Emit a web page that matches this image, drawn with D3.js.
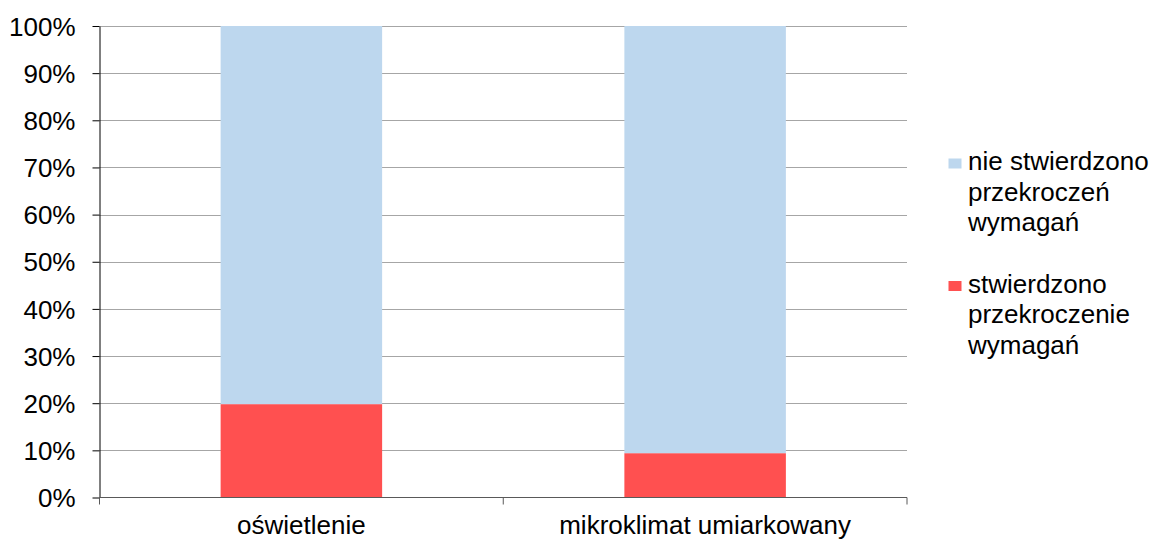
<!DOCTYPE html>
<html><head><meta charset="utf-8">
<script src="https://cdn.jsdelivr.net/npm/d3@7"></script>
<style>body{margin:0;background:#fff;}svg{display:block;font-family:"Liberation Sans",Arial,sans-serif;}</style>
</head><body><svg id="c" width="1156" height="540"></svg>
<script>
const categories = ["oświetlenie", "mikroklimat umiarkowany"];
const seriesNames = ["stwierdzono przekroczenie wymagań", "nie stwierdzono przekroczeń wymagań"];
const exceeded = [19.8, 9.4];
const notExceeded = [80.2, 90.6];
const yTicks = [0,10,20,30,40,50,60,70,80,90,100];
const legendLines = [["nie stwierdzono","przekroczeń","wymagań"],["stwierdzono","przekroczenie","wymagań"]];
const colors = ["#FF5050", "#BDD7EE"];

const FS = "26px";
const svg = d3.select("#c");
const L = 99.5, R = 907, T = 26, B = 497.5;
const x = d3.scaleBand().domain(categories).range([L, R]).paddingInner(0.6).paddingOuter(0.3);
const y = d3.scaleLinear().domain([0,100]).range([B, T]);

// gridlines
svg.append("g").selectAll("line").data(yTicks.filter(d=>d>0)).join("line")
  .attr("x1", L).attr("x2", R).attr("y1", d=>Math.round(y(d))+0.5).attr("y2", d=>Math.round(y(d))+0.5)
  .attr("stroke", "#a6a6a6").attr("stroke-width", 1);

// stacked bars
const data = categories.map((c,i)=>({cat:c, s0:exceeded[i], s1:notExceeded[i]}));
const stack = d3.stack().keys(["s0","s1"])(data);
svg.append("g").selectAll("g").data(stack).join("g").attr("fill",(d,i)=>colors[i])
  .selectAll("rect").data(d=>d).join("rect")
  .attr("x", d=>x(d.data.cat)).attr("width", x.bandwidth())
  .attr("y", d=>y(d[1])).attr("height", d=>y(d[0])-y(d[1]));

// y axis
const ya = svg.append("g").attr("transform", `translate(${L},0)`)
  .call(d3.axisLeft(y).tickValues(yTicks).tickFormat(d=>d+"%").tickSize(7).tickSizeOuter(0));
ya.select(".domain").attr("stroke","#000");
ya.selectAll(".tick line").attr("stroke","#000");
ya.selectAll("text").attr("font-size",FS).attr("fill","#000").attr("x",-24).attr("dy","0.35em").attr("font-family","'Liberation Sans',Arial,sans-serif");

// x axis
const xa = svg.append("g").attr("transform", `translate(0,${B})`);
xa.append("line").attr("x1",L).attr("x2",R).attr("stroke","#595959");
const bounds = [L, (L+R)/2, R];
xa.selectAll(".tk").data(bounds).join("line").attr("class","tk")
  .attr("x1",d=>d).attr("x2",d=>d).attr("y1",0).attr("y2",7).attr("stroke","#595959");
xa.selectAll("text").data(categories).join("text")
  .attr("x", d=>x(d)+x.bandwidth()/2).attr("y", 36).attr("text-anchor","middle")
  .attr("font-size",FS).attr("fill","#000").text(d=>d);

// legend
const lg = svg.append("g");
const entries = [{c:colors[1], lines:legendLines[0], y:170},{c:colors[0], lines:legendLines[1], y:292.5}];
entries.forEach(e=>{
  lg.append("rect").attr("x",948.5).attr("y",e.y-11.5).attr("width",13).attr("height",10).attr("fill",e.c);
  e.lines.forEach((t,j)=>{
    lg.append("text").attr("x",968).attr("y",e.y+j*30.7).attr("font-size",FS).attr("fill","#000").text(t);
  });
});
</script></body></html>
